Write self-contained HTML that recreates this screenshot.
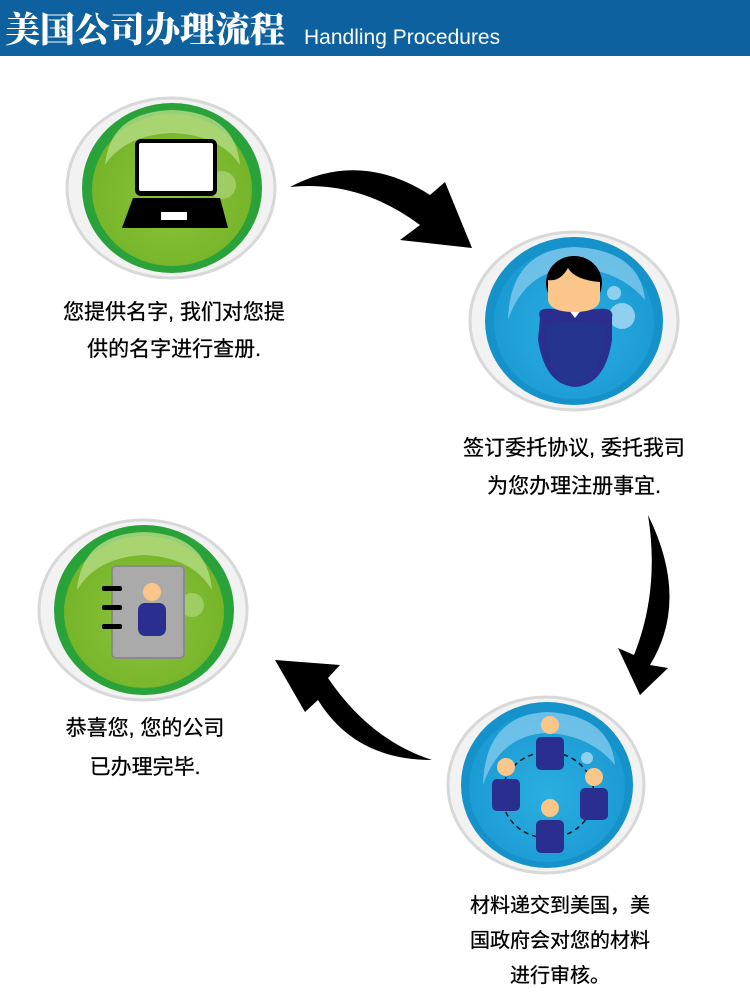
<!DOCTYPE html>
<html><head><meta charset="utf-8"><style>
body{margin:0;width:750px;height:1004px;background:#fff;position:relative;overflow:hidden;font-family:"Liberation Sans","Noto Sans CJK SC",sans-serif}
.hd{position:absolute;left:0;top:0;width:750px;height:56px;background:#0d619f}
.t{position:absolute;color:#000;text-align:center;font-size:21px;line-height:24px;white-space:nowrap;-webkit-text-stroke:0.3px #000}
</style></head><body>
<div class="hd"></div>
<div style="position:absolute;left:5px;top:8px;color:#fff;font-family:'Noto Serif CJK SC',serif;font-weight:900;font-size:35px;line-height:40px;letter-spacing:0px">美国公司办理流程</div>
<div style="position:absolute;left:304px;top:25px;color:#fff;font-size:21px;line-height:26px">Handling Procedures</div>

<svg width="750" height="1004" style="position:absolute;left:0;top:0">
<defs>
<radialGradient id="g" cx="50%" cy="55%" r="55%"><stop offset="0" stop-color="#8cc43c"/><stop offset="1" stop-color="#74b328"/></radialGradient>
<radialGradient id="b" cx="50%" cy="55%" r="55%"><stop offset="0" stop-color="#2aaee0"/><stop offset="1" stop-color="#1b9ad3"/></radialGradient>
</defs>
<g>
<ellipse cx="171" cy="188" rx="104" ry="90" fill="#f2f2f2" stroke="#d8d8d8" stroke-width="3"/>
<ellipse cx="172" cy="188" rx="90" ry="85" fill="#2aa23a"/>
<ellipse cx="172" cy="190" rx="80" ry="76" fill="url(#g)"/>
<path d="M105 165 Q110 112 172 110 Q235 112 240 165 Q220 135 172 133 Q125 135 105 165Z" fill="#b5dc84" opacity=".8"/>
<circle cx="222" cy="185" r="14" fill="#a8d270" opacity=".8"/>
<rect x="135" y="139" width="82" height="57" rx="6" fill="#000"/>
<rect x="139" y="143" width="74" height="48" rx="2" fill="#fff"/>
<path d="M133 198 H220 L228 228 H122Z" fill="#000"/>
<rect x="161" y="212" width="26" height="8" fill="#fff"/>
</g>
<g>
<ellipse cx="574" cy="321" rx="104" ry="89" fill="#f2f2f2" stroke="#d8d8d8" stroke-width="3"/>
<ellipse cx="574" cy="321" rx="89" ry="84" fill="#1592c9"/>
<ellipse cx="574" cy="323" rx="80" ry="76" fill="url(#b)"/>
<path d="M508 320 Q510 250 574 247 Q640 250 645 300 Q620 270 574 268 Q525 270 508 320Z" fill="#8fd0ef" opacity=".7"/>
<circle cx="614" cy="293" r="7" fill="#8fd0ef"/>
<circle cx="622" cy="316" r="13" fill="#8fd0ef"/>
<path d="M540 318 Q535 305 560 310 L590 310 Q615 305 612 318 L612 340 Q605 385 575 387 Q545 385 538 340Z" fill="#2a2f8f"/>
<path d="M546 326 Q575 318 606 326 L604 345 Q596 382 575 384 Q553 382 547 345Z" fill="#25358f"/>
<path d="M568 309 L575 318 L582 309Z" fill="#fff"/>
<ellipse cx="574" cy="283" rx="28" ry="27" fill="#000"/>
<path d="M548 280 Q560 282 568 268 Q575 280 600 282 L600 300 Q598 312 574 312 Q550 312 548 300Z" fill="#fbc68a"/>
</g>
<g>
<ellipse cx="143" cy="610" rx="104" ry="90" fill="#f2f2f2" stroke="#d8d8d8" stroke-width="3"/>
<ellipse cx="144" cy="610" rx="90" ry="85" fill="#2aa23a"/>
<ellipse cx="144" cy="612" rx="80" ry="76" fill="url(#g)"/>
<path d="M77 590 Q82 534 144 532 Q207 534 212 590 Q192 557 144 555 Q97 557 77 590Z" fill="#b5dc84" opacity=".8"/>
<circle cx="192" cy="605" r="12" fill="#a8d270" opacity=".8"/>
<rect x="112" y="566" width="72" height="92" rx="4" fill="#aaa" stroke="#8a8a8a" stroke-width="2"/>
<rect x="102" y="586" width="20" height="5" rx="2" fill="#000"/>
<rect x="102" y="605" width="20" height="5" rx="2" fill="#000"/>
<rect x="102" y="624" width="20" height="5" rx="2" fill="#000"/>
<circle cx="152" cy="592" r="9" fill="#fbc68a"/>
<rect x="138" y="603" width="28" height="33" rx="7" fill="#2a2f8f"/>
</g>
<g>
<ellipse cx="546" cy="785" rx="98" ry="88" fill="#f2f2f2" stroke="#d8d8d8" stroke-width="3"/>
<ellipse cx="547" cy="785" rx="86" ry="83" fill="#1592c9"/>
<ellipse cx="547" cy="787" rx="78" ry="75" fill="url(#b)"/>
<path d="M483 785 Q485 715 547 712 Q610 715 615 765 Q590 735 547 733 Q500 735 483 785Z" fill="#8fd0ef" opacity=".7"/>
<ellipse cx="548" cy="795" rx="46" ry="43" fill="none" stroke="#111" stroke-width="1.5" stroke-dasharray="5 4"/>
<circle cx="587" cy="758" r="6" fill="#8fd0ef"/>
<g fill="#fbc68a"><circle cx="550" cy="725" r="9"/><circle cx="506" cy="767" r="9"/><circle cx="594" cy="777" r="9"/><circle cx="550" cy="808" r="9"/></g>
<g fill="#2a2f8f"><rect x="536" y="737" width="28" height="33" rx="5"/><rect x="492" y="779" width="28" height="32" rx="5"/><rect x="580" y="788" width="28" height="32" rx="5"/><rect x="536" y="820" width="28" height="33" rx="5"/></g>
</g>
<path d="M290 187 Q360 150 430 195 L445 182 L472 248 L400 240 L420 225 Q360 180 290 187Z" fill="#000"/>
<path d="M648 515 Q690 600 650 665 L668 668 L640 695 L618 648 L634 655 Q660 590 648 515Z" fill="#000"/>
<path d="M432 760 Q355 760 318 700 L305 712 L275 660 L340 665 L328 678 Q370 740 432 760Z" fill="#000"/>
</svg>

<div class="t" style="left:44px;top:301px;width:260px">您提供名字, 我们对您提</div>
<div class="t" style="left:44px;top:338px;width:260px">供的名字进行查册.</div>
<div class="t" style="left:444px;top:437px;width:260px">签订委托协议, 委托我司</div>
<div class="t" style="left:444px;top:475px;width:260px">为您办理注册事宜.</div>
<div class="t" style="left:15px;top:717px;width:260px">恭喜您, 您的公司</div>
<div class="t" style="left:15px;top:756px;width:260px">已办理完毕.</div>
<div class="t" style="left:430px;top:894px;width:260px;font-size:20px">材料递交到美国，美</div>
<div class="t" style="left:430px;top:929px;width:260px;font-size:20px">国政府会对您的材料</div>
<div class="t" style="left:430px;top:964px;width:260px;font-size:20px">进行审核。</div>
</body></html>
